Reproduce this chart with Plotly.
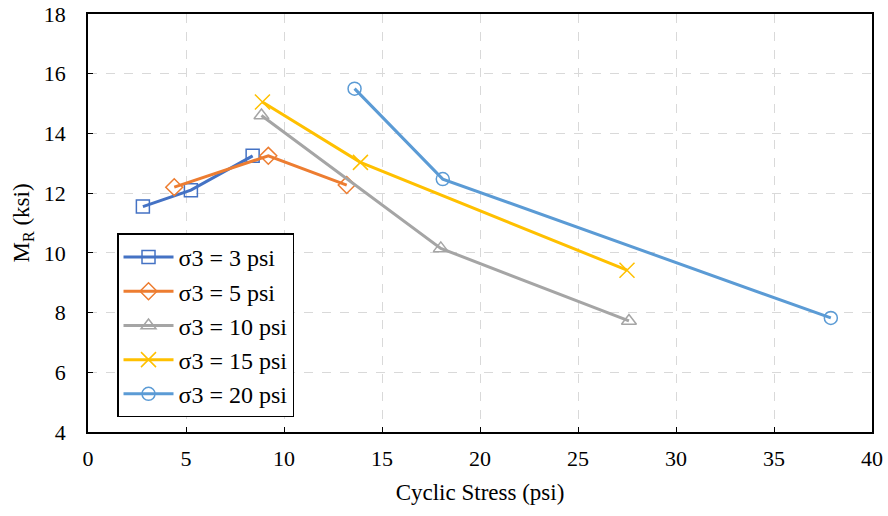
import plotly.graph_objects as go

names = ["σ3 = 3 psi", "σ3 = 5 psi", "σ3 = 10 psi", "σ3 = 15 psi", "σ3 = 20 psi"]
x_3 = [2.8, 5.25, 8.4]
y_3 = [11.55, 12.1, 13.25]
x_5 = [4.4, 9.2, 13.2]
y_5 = [12.2, 13.25, 12.27]
x_10 = [8.85, 18.0, 27.6]
y_10 = [14.6, 10.15, 7.72]
x_15 = [8.9, 13.9, 27.5]
y_15 = [15.05, 13.03, 9.42]
x_20 = [13.6, 18.1, 37.9]
y_20 = [15.5, 12.47, 7.82]

xs = [x_3, x_5, x_10, x_15, x_20]
ys = [y_3, y_5, y_10, y_15, y_20]
colors = ["#4472C4", "#ED7D31", "#A5A5A5", "#FFC000", "#5B9BD5"]
symbols = ["square-open", "diamond-open", "triangle-up-open", "x-thin-open", "circle-open"]
sizes = [13, 13, 13, 15, 13]

fig = go.Figure()
for n, x, y, c, s, sz in zip(names, xs, ys, colors, symbols, sizes):
    fig.add_trace(go.Scatter(
        x=x, y=y, name=n, mode="lines+markers",
        line=dict(color=c, width=3),
        marker=dict(symbol=s, size=sz, color=c, line=dict(color=c, width=1.5)),
    ))

font = "Liberation Serif"
fig.update_layout(
    width=888, height=516,
    margin=dict(l=88, r=16, t=14, b=84, autoexpand=False),
    paper_bgcolor="white", plot_bgcolor="white",
    font=dict(family=font, size=22, color="black"),
    showlegend=True,
    legend=dict(
        x=0.037, y=0.475, xanchor="left", yanchor="top",
        bgcolor="white", bordercolor="black", borderwidth=1.5,
        font=dict(family=font, size=24), itemwidth=50,
        tracegroupgap=0,
    ),
    xaxis=dict(
        range=[0, 40], dtick=5, tick0=0,
        title=dict(text="Cyclic Stress (psi)", font=dict(family=font, size=23), standoff=14),
        showgrid=True, gridcolor="#D9D9D9", griddash="dash", gridwidth=1,
        showline=True, linecolor="black", linewidth=1.5, mirror=True,
        ticks="inside", ticklen=5, tickcolor="black", automargin=False,
        ticklabelstandoff=6,
        zeroline=False, tickfont=dict(family=font, size=22),
    ),
    yaxis=dict(
        range=[4, 18], dtick=2, tick0=4,
        title=dict(text="M<sub>R</sub> (ksi)", font=dict(family=font, size=23), standoff=8),
        showgrid=True, gridcolor="#D9D9D9", griddash="dash", gridwidth=1,
        showline=True, linecolor="black", linewidth=1.5, mirror=True,
        ticks="inside", ticklen=5, tickcolor="black", automargin=False,
        ticklabelstandoff=16,
        zeroline=False, tickfont=dict(family=font, size=22),
    ),
)

fig.write_html("out.html")
